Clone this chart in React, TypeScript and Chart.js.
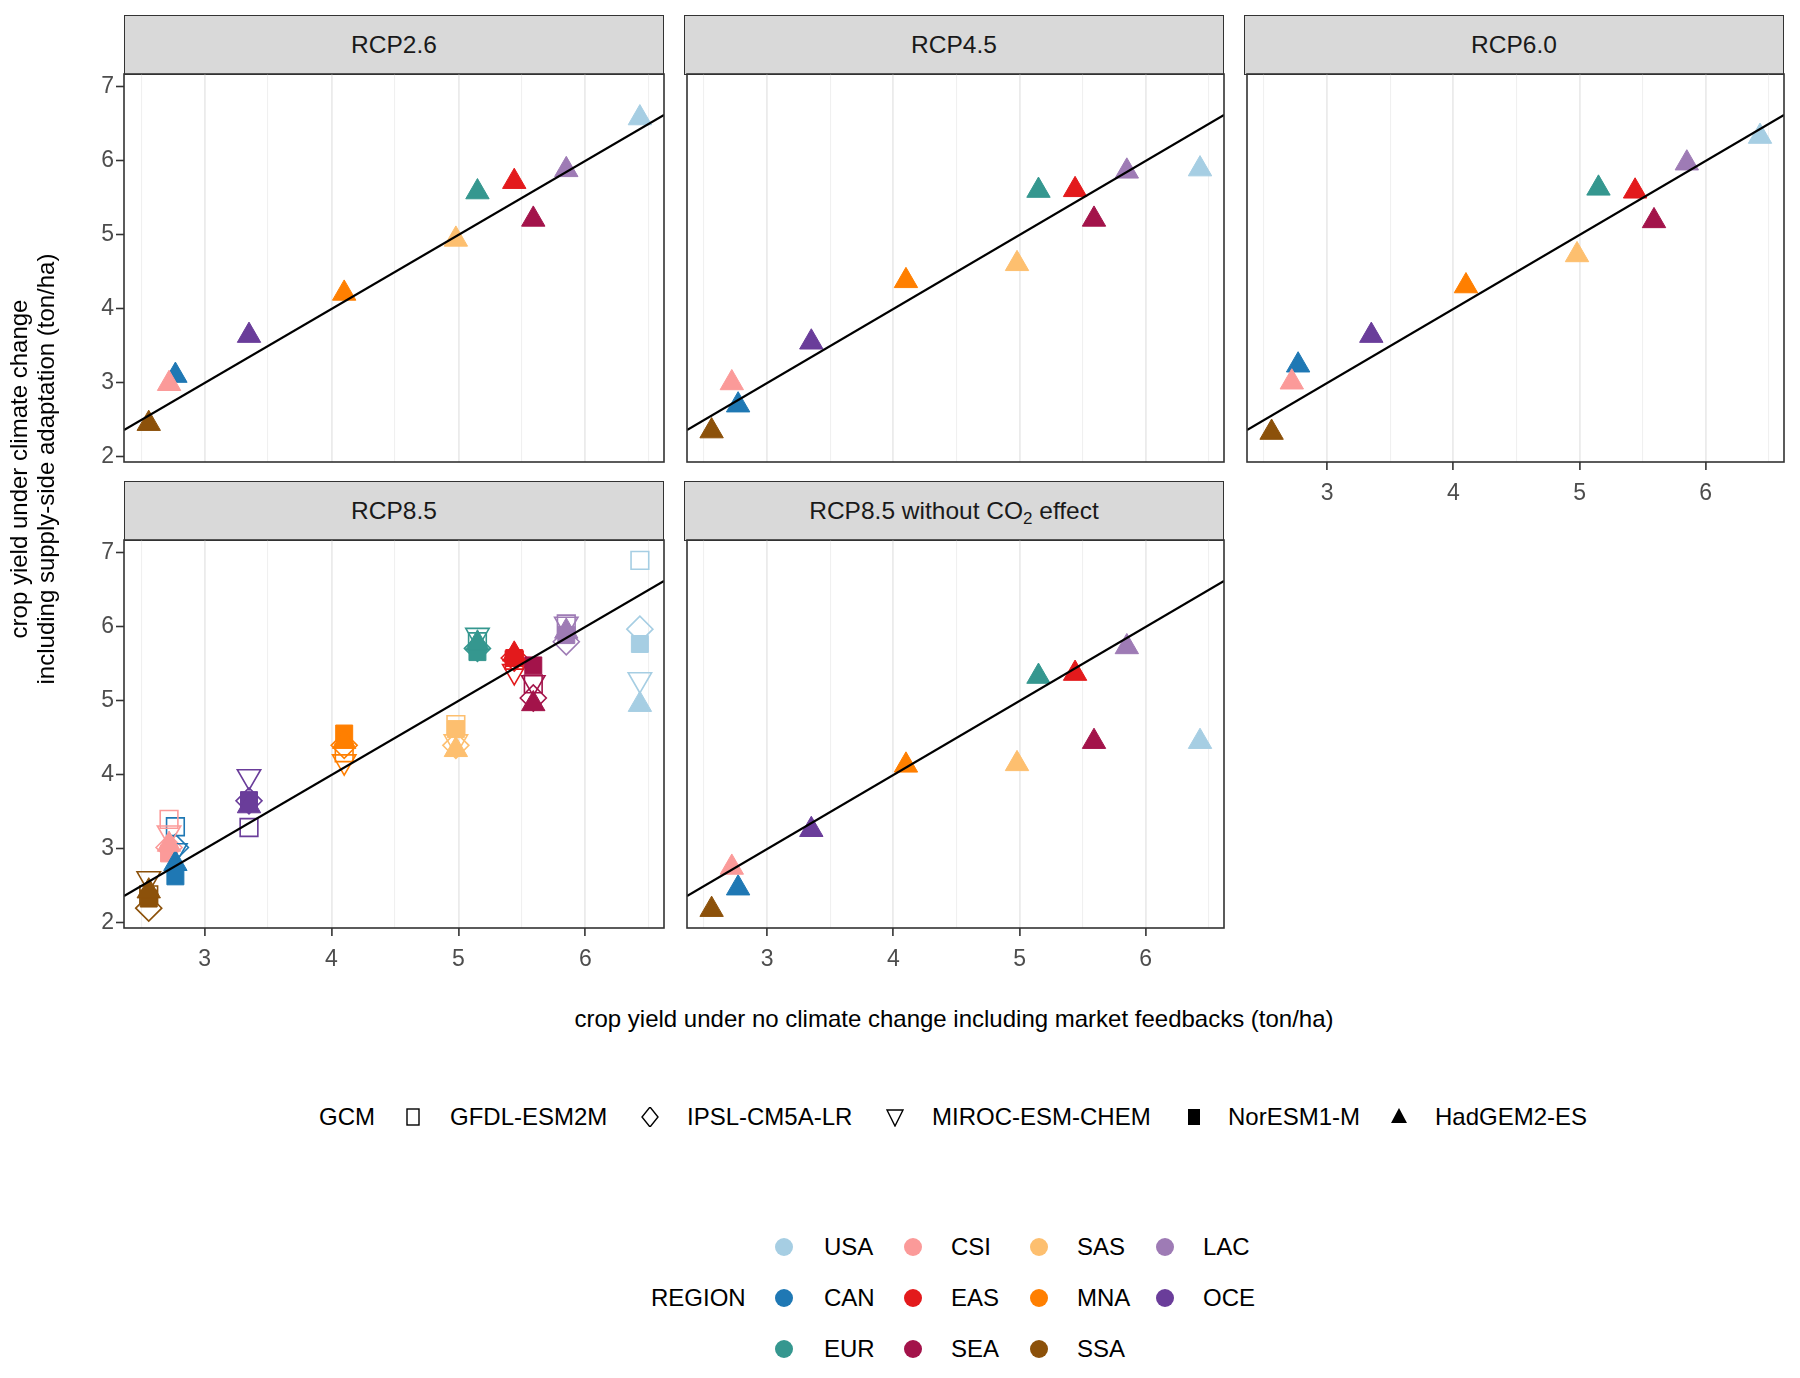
import React, { useEffect, useRef } from 'react';
import { Chart, registerables } from 'chart.js';

Chart.register(...registerables);

// ---------------- data ----------------
const REGIONS = ['USA', 'CAN', 'EUR', 'CSI', 'EAS', 'SEA', 'SAS', 'MNA', 'SSA', 'LAC', 'OCE'];
const REGION_COLORS = ['#A6CEE3', '#1F78B4', '#35978F', '#FB9A99', '#E31A1C', '#A3134A', '#FDBF6F', '#FF7F00', '#8C510A', '#9E7BB5', '#6A3D9A'];

// crop yield under no climate change incl. market feedbacks (x)
const BASELINE_YIELD = [6.43, 2.77, 5.15, 2.72, 5.44, 5.59, 4.98, 4.10, 2.56, 5.85, 3.35];

const GCMS = ['GFDL-ESM2M', 'IPSL-CM5A-LR', 'MIROC-ESM-CHEM', 'NorESM1-M', 'HadGEM2-ES'];

// crop yield under climate change incl. supply-side adaptation (y), per region
const RCP26_HADGEM = [6.58, 3.10, 5.58, 2.99, 5.72, 5.21, 4.94, 4.21, 2.45, 5.88, 3.64];
const RCP45_HADGEM = [5.89, 2.70, 5.60, 3.00, 5.61, 5.21, 4.61, 4.38, 2.35, 5.86, 3.55];
const RCP60_HADGEM = [6.33, 3.24, 5.63, 3.01, 5.59, 5.19, 4.73, 4.31, 2.33, 5.97, 3.64];
const RCP85_GFDL = [6.90, 3.30, 5.80, 3.40, 5.55, 5.23, 4.68, 4.30, 2.38, 6.04, 3.29];
const RCP85_IPSL = [5.97, 3.02, 5.71, 3.02, 5.58, 5.04, 4.40, 4.40, 2.20, 5.80, 3.65];
const RCP85_MIROC = [5.29, 2.98, 5.89, 3.22, 5.40, 5.25, 4.45, 4.18, 2.60, 6.04, 3.98];
const RCP85_NORESM = [5.77, 2.63, 5.66, 2.94, 5.58, 5.48, 4.62, 4.56, 2.33, 5.89, 3.66];
const RCP85_HADGEM = [4.95, 2.80, 5.78, 3.06, 5.63, 4.96, 4.34, 4.45, 2.43, 5.94, 3.58];
const RCP85_NOCO2_HADGEM = [4.45, 2.47, 5.33, 2.75, 5.37, 4.45, 4.15, 4.13, 2.18, 5.73, 3.26];

const X_MIN = 2.365;
const X_MAX = 6.62;
const Y_MIN = 1.932;
const Y_MAX = 7.175;
const X_GRID = [2.5, 3, 3.5, 4, 4.5, 5, 5.5, 6, 6.5];
const Y_TICKS = [2, 3, 4, 5, 6, 7];

// ---------------- styles / layout ----------------
const FONT = '"Liberation Sans", Arial, Helvetica, sans-serif';
const GCM_SHAPES = [
  { style: 'rect', rotation: 0, filled: false, radius: 12.5 },
  { style: 'rectRot', rotation: 0, filled: false, radius: 13 },
  { style: 'triangle', rotation: 180, filled: false, radius: 13.5 },
  { style: 'rect', rotation: 0, filled: true, radius: 12 },
  { style: 'triangle', rotation: 0, filled: true, radius: 13.5 },
];

const COL_LEFT = [124, 684, 1244];
const PLOT_W = 540;
const PLOT_H = 388;
const STRIP_H = 59;
const ROW_STRIP_TOP = [15, 481];
const TICK_FONT = 23;
const TICK_LEN = 8;

type Panel = {
  title: React.ReactNode;
  col: number;
  row: number;
  showX: boolean;
  showY: boolean;
  series: [number, number[]][];
};

const PANELS: Panel[] = [
  { title: 'RCP2.6', col: 0, row: 0, showX: false, showY: true, series: [[4, RCP26_HADGEM]] },
  { title: 'RCP4.5', col: 1, row: 0, showX: false, showY: false, series: [[4, RCP45_HADGEM]] },
  { title: 'RCP6.0', col: 2, row: 0, showX: true, showY: false, series: [[4, RCP60_HADGEM]] },
  {
    title: 'RCP8.5', col: 0, row: 1, showX: true, showY: true,
    series: [[0, RCP85_GFDL], [1, RCP85_IPSL], [2, RCP85_MIROC], [3, RCP85_NORESM], [4, RCP85_HADGEM]],
  },
  {
    title: (<span>RCP8.5 without CO<sub style={{ fontSize: '17px', verticalAlign: '-5px', lineHeight: 0 }}>2</sub> effect</span>),
    col: 1, row: 1, showX: true, showY: false, series: [[4, RCP85_NOCO2_HADGEM]],
  },
];

const panelBorder = {
  id: 'panelBorder',
  afterDraw(chart: any) {
    const { ctx, chartArea: a } = chart;
    ctx.save();
    ctx.strokeStyle = '#333333';
    ctx.lineWidth = 1.6;
    ctx.strokeRect(a.left, a.top, a.right - a.left, a.bottom - a.top);
    ctx.restore();
  },
};

function PanelChart({ p }: { p: Panel }) {
  const ref = useRef<HTMLCanvasElement>(null);
  const padL = p.showY ? 70 : 3;
  const padB = p.showX ? 60 : 3;
  const padT = 3;
  const padR = 3;
  const plotLeft = COL_LEFT[p.col];
  const plotTop = ROW_STRIP_TOP[p.row] + STRIP_H;
  const W = PLOT_W + padL + padR;
  const H = PLOT_H + padT + padB;

  useEffect(() => {
    if (!ref.current) return;
    const datasets: any[] = [
      {
        label: 'identity',
        data: [X_MIN, X_MAX].map((v) => ({ x: v, y: v })),
        showLine: true,
        borderColor: '#000000',
        borderWidth: 2.2,
        pointRadius: 0,
        order: 0,
      },
    ];
    p.series.forEach(([g, vals]) => {
      const s = GCM_SHAPES[g];
      datasets.push({
        label: GCMS[g],
        data: vals.map((y, r) => ({ x: BASELINE_YIELD[r], y })),
        pointStyle: s.style,
        rotation: s.rotation,
        pointRadius: s.radius,
        pointBackgroundColor: s.filled ? REGION_COLORS : 'rgba(0,0,0,0)',
        pointBorderColor: REGION_COLORS,
        pointBorderWidth: s.filled ? 1 : 1.6,
        showLine: false,
        order: 6 - g,
      });
    });

    const chart = new Chart(ref.current, {
      type: 'scatter',
      data: { datasets },
      plugins: [panelBorder],
      options: {
        animation: false,
        responsive: false,
        devicePixelRatio: 1,
        events: [],
        layout: {
          autoPadding: false,
          padding: { left: p.showY ? 0 : padL, right: padR, top: padT, bottom: p.showX ? 0 : padB },
        },
        plugins: { legend: { display: false }, tooltip: { enabled: false } },
        scales: {
          x: {
            type: 'linear',
            min: X_MIN,
            max: X_MAX,
            afterBuildTicks: (s: any) => {
              s.ticks = X_GRID.map((v) => ({ value: v }));
            },
            afterFit: (s: any) => {
              s.height = p.showX ? padB : 0;
              s.paddingLeft = 0;
              s.paddingRight = 0;
              s.paddingTop = 0;
              s.paddingBottom = 0;
            },
            border: { display: false },
            grid: {
              color: (c: any) => (Number.isInteger(c.tick?.value) ? '#EBEBEB' : '#F0F0F0'),
              lineWidth: (c: any) => (Number.isInteger(c.tick?.value) ? 1.8 : 1.1),
              drawTicks: p.showX,
              tickLength: TICK_LEN,
              tickWidth: 1.6,
              tickColor: (c: any) => (Number.isInteger(c.tick?.value) ? '#333333' : 'rgba(0,0,0,0)'),
            },
            ticks: {
              display: p.showX,
              autoSkip: false,
              maxRotation: 0,
              padding: 10,
              color: '#4D4D4D',
              font: { family: FONT, size: TICK_FONT },
              callback: (v: any) => (Number.isInteger(v) ? String(v) : ''),
            },
          },
          y: {
            type: 'linear',
            display: p.showY,
            min: Y_MIN,
            max: Y_MAX,
            afterBuildTicks: (s: any) => {
              s.ticks = Y_TICKS.map((v) => ({ value: v }));
            },
            afterFit: (s: any) => {
              s.width = padL;
              s.paddingLeft = 0;
              s.paddingRight = 0;
              s.paddingTop = 0;
              s.paddingBottom = 0;
            },
            border: { display: false },
            grid: {
              drawOnChartArea: false,
              drawTicks: true,
              tickLength: TICK_LEN,
              tickWidth: 1.6,
              tickColor: '#333333',
            },
            ticks: {
              padding: 2,
              color: '#4D4D4D',
              font: { family: FONT, size: TICK_FONT },
              callback: (v: any) => String(v),
            },
          },
        },
      } as any,
    });
    return () => chart.destroy();
  }, []);

  return (
    <>
      <div
        style={{
          position: 'absolute',
          left: plotLeft,
          top: ROW_STRIP_TOP[p.row],
          width: PLOT_W,
          height: STRIP_H + 1,
          boxSizing: 'border-box',
          background: '#D9D9D9',
          border: '1.6px solid #333333',
          display: 'flex',
          alignItems: 'center',
          justifyContent: 'center',
          fontSize: 24.5,
          color: '#1A1A1A',
        }}
      >
        {p.title}
      </div>
      <canvas
        ref={ref}
        width={W}
        height={H}
        style={{ position: 'absolute', left: plotLeft - padL, top: plotTop - padT, width: W, height: H }}
      />
    </>
  );
}

function GcmKey({ g }: { g: number }) {
  const s = GCM_SHAPES[g];
  const fill = s.filled ? '#000' : 'none';
  const sw = s.filled ? 0 : 1.4;
  let shape: React.ReactNode = null;
  if (s.style === 'rect') shape = <rect x={3} y={2} width={12} height={16} fill={fill} stroke="#000" strokeWidth={sw} />;
  else if (s.style === 'rectRot') shape = <polygon points="9,0 17,10 9,20 1,10" fill={fill} stroke="#000" strokeWidth={sw} />;
  else if (s.rotation === 180) shape = <polygon points="1,3 17,3 9,19" fill={fill} stroke="#000" strokeWidth={sw} />;
  else shape = <polygon points="9,1 17,16 1,16" fill={fill} stroke="#000" strokeWidth={sw} />;
  return (
    <svg width={18} height={20} viewBox="0 0 18 20" style={{ display: 'block' }}>
      {shape}
    </svg>
  );
}

const GCM_KEY_X = [413, 650, 895, 1194, 1399];
const GCM_LABEL_X = [450, 687, 932, 1228, 1435];
const GCM_ROW_Y = 1117;
const REGION_KEY_X = [784, 913, 1039, 1165];
const REGION_LABEL_X = [824, 951, 1077, 1203];
const REGION_ROW_Y = [1247, 1298, 1349];

function Label({ x, y, text, size = 24 }: { x: number; y: number; text: string; size?: number }) {
  return (
    <div style={{ position: 'absolute', left: x, top: y - 15, height: 30, lineHeight: '30px', fontSize: size, whiteSpace: 'nowrap', color: '#000' }}>
      {text}
    </div>
  );
}

export default function App() {
  return (
    <div
      style={{
        position: 'absolute',
        left: 0,
        top: 0,
        width: 1800,
        height: 1378,
        background: '#FFFFFF',
        fontFamily: FONT,
        overflow: 'hidden',
      }}
    >
      {PANELS.map((p, i) => (
        <PanelChart key={i} p={p} />
      ))}

      {/* y axis title */}
      <div
        style={{
          position: 'absolute',
          left: 33 - 350,
          top: 469 - 28,
          width: 700,
          height: 56,
          transform: 'rotate(-90deg)',
          textAlign: 'center',
          fontSize: 24,
          lineHeight: '27px',
          color: '#000',
        }}
      >
        crop yield under climate change
        <br />
        including supply-side adaptation (ton/ha)
      </div>

      {/* x axis title */}
      <div
        style={{
          position: 'absolute',
          left: 954 - 500,
          top: 1019 - 15,
          width: 1000,
          height: 30,
          lineHeight: '30px',
          textAlign: 'center',
          fontSize: 24,
          color: '#000',
        }}
      >
        crop yield under no climate change including market feedbacks (ton/ha)
      </div>

      {/* GCM legend */}
      <Label x={319} y={GCM_ROW_Y} text="GCM" />
      {GCMS.map((name, g) => (
        <React.Fragment key={name}>
          <div style={{ position: 'absolute', left: GCM_KEY_X[g] - 9, top: GCM_ROW_Y - 10 }}>
            <GcmKey g={g} />
          </div>
          <Label x={GCM_LABEL_X[g]} y={GCM_ROW_Y} text={name} />
        </React.Fragment>
      ))}

      {/* REGION legend */}
      <Label x={651} y={REGION_ROW_Y[1]} text="REGION" />
      {REGIONS.map((name, r) => {
        const col = Math.floor(r / 3);
        const row = r % 3;
        return (
          <React.Fragment key={name}>
            <div
              style={{
                position: 'absolute',
                left: REGION_KEY_X[col] - 9,
                top: REGION_ROW_Y[row] - 9,
                width: 18,
                height: 18,
                borderRadius: '50%',
                background: REGION_COLORS[r],
              }}
            />
            <Label x={REGION_LABEL_X[col]} y={REGION_ROW_Y[row]} text={name} />
          </React.Fragment>
        );
      })}
    </div>
  );
}
